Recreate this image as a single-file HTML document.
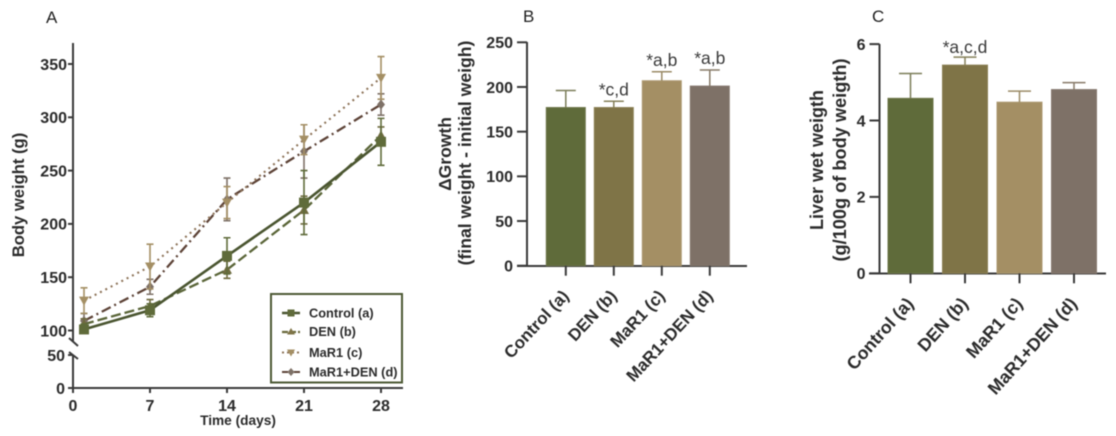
<!DOCTYPE html>
<html lang="en">
<head>
<meta charset="utf-8">
<title>Body weight, growth and liver weight</title>
<style>
html,body{margin:0;padding:0;background:#fff;width:1116px;height:436px;overflow:hidden}
svg{display:block;filter:blur(0.6px);font-family:"Liberation Sans",Arial,sans-serif}
.tk{font-weight:bold;font-size:16px;fill:#2b2b2b}
.ttl{font-weight:bold;fill:#2b2b2b}
.panel{font-size:17px;fill:#222}
.ann{font-size:17.5px;fill:#3a3a3a;text-anchor:middle}
.leg{font-weight:bold;font-size:12.8px;fill:#2b2b2b}
.ax{stroke:#3a3a3a;stroke-width:2;fill:none}
</style>
</head>
<body>
<svg id="fig" xmlns="http://www.w3.org/2000/svg" width="1116" height="436" viewBox="0 0 1116 436">
  <text class="panel" x="46" y="23">A</text>
  <text class="panel" x="523" y="22">B</text>
  <text class="panel" x="872" y="22">C</text>

  <g id="panelA">
    <path class="ax" d="M73 43V342M73 355V388M73 388H403"/>
    <path class="ax" d="M69 338L78 346M69 352L78 359"/>
    <text class="ttl" font-size="16.6" transform="translate(24,195) rotate(-90)" text-anchor="middle">Body weight (g)</text>
    <text class="ttl" font-size="13.7" x="238" y="425" text-anchor="middle">Time (days)</text>
  </g>

  <g id="panelB">
    <path class="ax" d="M527 42V266M517 266H747"/>
    <text class="ttl" font-size="17.5" transform="translate(451,154) rotate(-90)" text-anchor="middle">ΔGrowth</text>
    <text class="ttl" font-size="17.6" transform="translate(471,153) rotate(-90)" text-anchor="middle">(final weight - initial weigh)</text>
  </g>

  <g id="panelC">
    <path class="ax" d="M879.5 44V273M869 273.5H1106"/>
    <text class="ttl" font-size="18" transform="translate(823,160) rotate(-90)" text-anchor="middle">Liver wet weigth</text>
    <text class="ttl" font-size="18.2" transform="translate(846,160) rotate(-90)" text-anchor="middle">(g/100g of body weigth)</text>
  </g>

  <g id="legend">
    <rect x="271" y="294" width="131" height="88.5" fill="#fff" stroke="#4e5a35" stroke-width="2"/>
    <g>
      <path d="M282 313H300" stroke="#4a5530" stroke-width="2.4" fill="none"/>
      <rect x="287.5" y="309.5" width="7" height="7" fill="#5f6b3a"/>
      <text class="leg" x="309" y="317.5">Control (a)</text>
    </g>
    <g>
      <path d="M282 332H300" stroke="#6a6a3c" stroke-width="2.2" stroke-dasharray="6 2" fill="none"/>
      <path d="M291 328L295 334.5H287Z" fill="#7f7447"/>
      <text class="leg" x="309" y="336">DEN (b)</text>
    </g>
    <g>
      <path d="M282 352.5H300" stroke="#8d7358" stroke-width="2" stroke-dasharray="2 3" fill="none"/>
      <path d="M287 349.5H295L291 356.5Z" fill="#a48f64"/>
      <text class="leg" x="309" y="357">MaR1 (c)</text>
    </g>
    <g>
      <path d="M282 372H300" stroke="#5d4337" stroke-width="2" stroke-dasharray="6 2 2 2" fill="none"/>
      <path d="M291 368L294.5 372L291 376L287.5 372Z" fill="#7e7167"/>
      <text class="leg" x="309" y="376.5">MaR1+DEN (d)</text>
    </g>
  </g>
</svg>
<script>
// ---------- Panel A data ----------
const days = [1, 7, 14, 21, 28];
const controlMean = [101, 119, 170, 220, 277];
const controlErr = [5, 6, 17, 30, 22];
const denMean = [106, 123, 157, 213, 283];
const denErr = [5, 6, 8, 13, 8];
const mar1Mean = [128, 160, 220, 279, 337];
const mar1Err = [12, 21, 15, 14, 20];
const mar1DenMean = [109, 141, 223, 268, 312];
const mar1DenErr = [7, 7, 20, 25, 10];
const xTicksA = [0, 7, 14, 21, 28];
const yTicksA = [0, 50, 100, 150, 200, 250, 300, 350];

// ---------- Panels B and C data ----------
const groups = ['Control (a)', 'DEN (b)', 'MaR1 (c)', 'MaR1+DEN (d)'];
const growthMean = [177, 177, 207, 201];
const growthTop = [196, 184, 217, 219];
const growthNotes = ['', '*c,d', '*a,b', '*a,b'];
const growthTicks = [0, 50, 100, 150, 200, 250];
const liverMean = [4.58, 5.45, 4.48, 4.81];
const liverTop = [5.23, 5.66, 4.77, 4.99];
const liverNotes = ['', '*a,c,d', '', ''];
const liverTicks = [0, 2, 4, 6];

const barFill = ['#5f6b3a', '#7f7447', '#a48f64', '#7e7167'];
const barEdge = ['#6d7549', '#8b8054', '#ad9a72', '#86796f'];
const capColor = ['#7b7d58', '#85805a', '#9a8a66', '#877a68'];

const NS = 'http://www.w3.org/2000/svg';
function mk(parent, tag, attrs, text) {
  const el = document.createElementNS(NS, tag);
  for (const k in attrs) el.setAttribute(k, attrs[k]);
  if (text !== undefined) el.textContent = text;
  parent.appendChild(el);
  return el;
}

// ---------- Axis functions ----------
const xA = d => 73 + d * 11;
const yA = v => v >= 100 ? 330.5 - (v - 100) * 1.066 : 388 - v * 0.66;
const yB = v => 265.7 - v * 0.8936;
const yC = v => 273.3 - v * 38.2;
const xB = i => 565.8 + i * 48;
const xC = i => 910.5 + i * 54.5;

// ---------- Panel A ----------
const gA = document.getElementById('panelA');
xTicksA.forEach(t => {
  const tick = mk(gA, 'line', {x1: xA(t), x2: xA(t), y1: 388, y2: 393, stroke: '#3a3a3a', 'stroke-width': 2});
  
  
  const label = mk(gA, 'text', {class: 'tk', x: xA(t), y: 411, 'text-anchor': 'middle'}, String(t));
  
  
});
yTicksA.forEach(t => {
  const tick = mk(gA, 'line', {x1: 68, x2: 73, y1: yA(t), y2: yA(t), stroke: '#3a3a3a', 'stroke-width': 2});
  
  
  const label = mk(gA, 'text', {class: 'tk', x: t < 100 ? 65 : 67, y: yA(t) + 5.8, 'text-anchor': 'end'}, String(t));
  
  
});

const seriesA = [
  {id: 'control', mean: controlMean, err: controlErr, line: '#4a5530', bar: '#5f6b3a', w: 2.6, dash: '', shape: 'square'},
  {id: 'den', mean: denMean, err: denErr, line: '#5a6538', bar: '#6f6b3f', w: 2.3, dash: '10 4', shape: 'up'},
  {id: 'mar1', mean: mar1Mean, err: mar1Err, line: '#8d7358', bar: '#a48f64', w: 2.1, dash: '2 4', shape: 'down'},
  {id: 'mar1-den', mean: mar1DenMean, err: mar1DenErr, line: '#5d4337', bar: '#7e7167', w: 2.3, dash: '10 4 2 4', shape: 'diamond'}
];
function markerPath(shape, x, y) {
  if (shape === 'square') return `M${x-5} ${y-5}h10v10h-10Z`;
  if (shape === 'up') return `M${x} ${y-5}L${x+5} ${y+4}H${x-5}Z`;
  if (shape === 'down') return `M${x-5} ${y-4}H${x+5}L${x} ${y+5}Z`;
  return `M${x} ${y-5}L${x+4} ${y}L${x} ${y+5}L${x-4} ${y}Z`;
}
[seriesA[3], seriesA[2], seriesA[1], seriesA[0]].forEach(s => {
  s.mean.forEach((m, i) => {
    const x = xA(days[i]);
    const top = yA(m + s.err[i]);
    const low = yA(m - s.err[i]);
    const eb = mk(gA, 'path', {d: `M${x} ${top}V${low}M${x-3.5} ${top}h7M${x-3.5} ${low}h7`, stroke: s.bar, 'stroke-width': 1.6, fill: 'none'});
    
    
  });
  const pts = s.mean.map((m, i) => xA(days[i]) + ',' + yA(m)).join(' ');
  const line = mk(gA, 'polyline', {points: pts, fill: 'none', stroke: s.line, 'stroke-width': s.w, 'stroke-dasharray': s.dash});
  
  
  s.mean.forEach((m, i) => {
    const pt = mk(gA, 'path', {d: markerPath(s.shape, xA(days[i]), yA(m)), fill: s.bar});
    
    
  });
});

// ---------- Bar panels ----------
function drawBars(g, key, means, tops, notes, ticks, xf, yf, opt) {
  ticks.forEach(t => {
    const tick = mk(g, 'line', {x1: opt.axisX - opt.tickLen, x2: opt.axisX, y1: yf(t), y2: yf(t), stroke: '#3a3a3a', 'stroke-width': 2});
    
    
    const label = mk(g, 'text', {class: 'tk', x: opt.axisX - opt.tickLen - 4, y: yf(t) + 5.8, 'text-anchor': 'end'}, String(t));
    
    
  });
  means.forEach((m, i) => {
    const x = xf(i);
    const bar = mk(g, 'rect', {x: x - opt.barW / 2, y: yf(m), width: opt.barW, height: yf(0) - yf(m), fill: barFill[i], stroke: barEdge[i], 'stroke-width': 1});
    
    
    const eb = mk(g, 'path', {d: `M${x} ${yf(m)}V${yf(tops[i])}M${x - opt.capW / 2} ${yf(tops[i])}h${opt.capW}`, stroke: capColor[i], 'stroke-width': 1.5, fill: 'none'});
    
    
    const tick = mk(g, 'line', {x1: x, x2: x, y1: yf(0), y2: yf(0) + opt.xTick, stroke: '#3a3a3a', 'stroke-width': 2});
    
    
    const label = mk(g, 'text', {class: 'tk', style: 'font-size:' + opt.labelFont + 'px', 'text-anchor': 'end', transform: `translate(${x + opt.labelDx},${yf(0) + opt.labelDy}) rotate(${opt.labelAngle})`}, groups[i]);
    
    
    if (notes[i]) {
      const note = mk(g, 'text', {class: 'ann', x: x + opt.noteDx, y: yf(tops[i]) - opt.noteGap}, notes[i]);
      
      
    }
  });
}
drawBars(document.getElementById('panelB'), 'growth', growthMean, growthTop, growthNotes, growthTicks, xB, yB,
  {axisX: 527, tickLen: 10, barW: 39, capW: 20, xTick: 10, noteGap: 6, noteDx: 0, labelFont: 17, labelAngle: -47, labelDx: 4, labelDy: 31});
drawBars(document.getElementById('panelC'), 'liver', liverMean, liverTop, liverNotes, liverTicks, xC, yC,
  {axisX: 879.5, tickLen: 10, barW: 45, capW: 23, xTick: 10, noteGap: 4, noteDx: 0, labelFont: 17.8, labelAngle: -48, labelDx: 4, labelDy: 31});
// keep the legend above the series
const fig = document.getElementById('fig');
fig.appendChild(document.getElementById('legend'));
</script>
</body>
</html>
